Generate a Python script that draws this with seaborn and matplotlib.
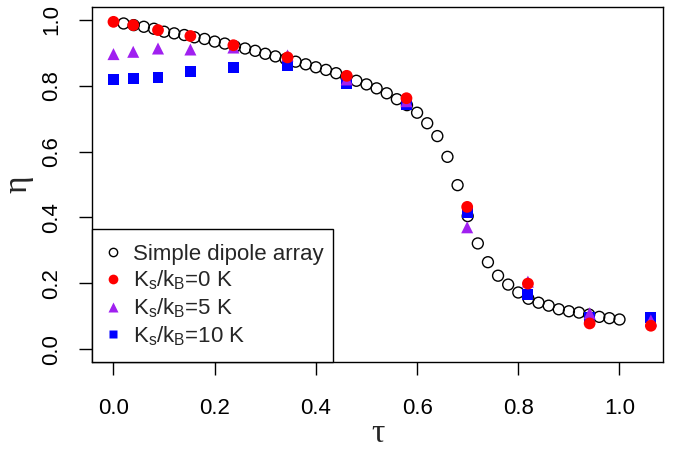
import matplotlib
matplotlib.use("Agg")
import matplotlib.pyplot as plt
from matplotlib.lines import Line2D
from matplotlib.patches import Rectangle
import seaborn as sns
import pandas as pd

# ---- data ----
tau_simple = [0.02, 0.04, 0.06, 0.08, 0.10, 0.12, 0.14, 0.16, 0.18, 0.20,
              0.22, 0.24, 0.26, 0.28, 0.30, 0.32, 0.34, 0.36, 0.38, 0.40,
              0.42, 0.44, 0.46, 0.48, 0.50, 0.52, 0.54, 0.56, 0.58, 0.60,
              0.62, 0.64, 0.66, 0.68, 0.70, 0.72, 0.74, 0.76, 0.78, 0.80,
              0.82, 0.84, 0.86, 0.88, 0.90, 0.92, 0.94, 0.96, 0.98, 1.00]
eta_simple = [0.989, 0.984, 0.979, 0.973, 0.964, 0.959, 0.954, 0.947, 0.942, 0.934,
              0.928, 0.919, 0.913, 0.906, 0.897, 0.889, 0.881, 0.873, 0.865, 0.856,
              0.848, 0.838, 0.827, 0.815, 0.804, 0.792, 0.777, 0.759, 0.741, 0.718,
              0.686, 0.647, 0.584, 0.498, 0.404, 0.321, 0.264, 0.223, 0.196, 0.172,
              0.153, 0.141, 0.132, 0.121, 0.115, 0.111, 0.105, 0.098, 0.094, 0.090]

tau_k = [0.0, 0.039, 0.088, 0.152, 0.237, 0.344, 0.461, 0.579, 0.699, 0.819, 0.941, 1.062]
eta_k0 = [0.994, 0.984, 0.969, 0.951, 0.923, 0.886, 0.830, 0.762, 0.432, 0.199, 0.078, 0.071]
eta_k5 = [0.896, 0.903, 0.913, 0.910, 0.916, 0.892, 0.819, 0.753, 0.370, 0.205, 0.109, 0.087]
eta_k10 = [0.819, 0.822, 0.825, 0.842, 0.856, 0.860, 0.807, 0.744, 0.414, 0.167, 0.097, 0.097]

labels = ["Simple dipole array",
          r"K$_\mathrm{s}$/k$_\mathrm{B}$=0 K",
          r"K$_\mathrm{s}$/k$_\mathrm{B}$=5 K",
          r"K$_\mathrm{s}$/k$_\mathrm{B}$=10 K"]
x_ticks = [0.0, 0.2, 0.4, 0.6, 0.8, 1.0]
y_ticks = [0.0, 0.2, 0.4, 0.6, 0.8, 1.0]

# ---- style ----
sns.set_style("ticks")
plt.rcParams['font.family'] = ['Liberation Sans', 'DejaVu Sans']
plt.rcParams['mathtext.fontset'] = 'custom'
plt.rcParams['mathtext.rm'] = 'Liberation Sans'
plt.rcParams['mathtext.it'] = 'Liberation Sans:italic'

RED = "#FF0000"
PURPLE = "#A020F0"
BLUE = "#0000FF"

fig = plt.figure(figsize=(6.78, 4.49), dpi=100)
ax = fig.add_axes([0.1361, 0.1931, 0.9779 - 0.1361, 0.9851 - 0.1931])

df_s = pd.DataFrame({"tau": tau_simple, "eta": eta_simple})
df_k = pd.DataFrame({"tau": tau_k, "k0": eta_k0, "k5": eta_k5, "k10": eta_k10})

sns.scatterplot(data=df_s, x="tau", y="eta", ax=ax, marker="o", s=62,
                facecolors="none", edgecolor="black", linewidth=1.0, legend=False, zorder=3)
sns.scatterplot(data=df_k, x="tau", y="k10", ax=ax, marker="s", s=62,
                color=BLUE, edgecolor="none", legend=False, zorder=4)
sns.scatterplot(data=df_k, x="tau", y="k5", ax=ax, marker="^", s=75,
                color=PURPLE, edgecolor="none", legend=False, zorder=5)
sns.scatterplot(data=df_k, x="tau", y="k0", ax=ax, marker="o", s=72,
                color=RED, edgecolor="none", legend=False, zorder=6)

ax.set_xlim(-0.0419, 1.086)
ax.set_ylim(-0.04, 1.04)
ax.set_xticks(x_ticks)
ax.set_yticks(y_ticks)
ax.set_xticklabels([f"{v:.1f}" for v in x_ticks])
ax.set_yticklabels([f"{v:.1f}" for v in y_ticks])
plt.setp(ax.get_yticklabels(), rotation=90, va="center")

for sp in ax.spines.values():
    sp.set_color("black")
    sp.set_linewidth(1.0)
    sp.set_visible(True)

ax.tick_params(axis="both", direction="out", length=9.5, width=1.0,
               colors="black", labelsize=16)
ax.tick_params(axis="x", pad=16)
ax.tick_params(axis="y", pad=12)

ax.set_xlabel("τ", fontsize=24, family=["Liberation Serif", "DejaVu Serif"], labelpad=0)
ax.set_ylabel("η", fontsize=24, family=["Liberation Serif", "DejaVu Serif"], labelpad=6)

# legend frame (R-style box anchored to the bottom-left corner of the plot)
ax.add_patch(Rectangle((0, 0), 0.421, 0.374, transform=ax.transAxes, fill=True,
                       facecolor="white", edgecolor="black", linewidth=1.0,
                       zorder=9, clip_on=False))

handles = [
    Line2D([], [], linestyle="none", marker="o", markersize=6, markerfacecolor="none",
           markeredgecolor="black", markeredgewidth=1.0),
    Line2D([], [], linestyle="none", marker="o", markersize=7, markerfacecolor=RED,
           markeredgecolor="none"),
    Line2D([], [], linestyle="none", marker="^", markersize=7.5, markerfacecolor=PURPLE,
           markeredgecolor="none"),
    Line2D([], [], linestyle="none", marker="s", markersize=6, markerfacecolor=BLUE,
           markeredgecolor="none"),
]
leg = ax.legend(handles, labels, loc="center left", bbox_to_anchor=(0.017, 0.187),
                borderaxespad=0, fontsize=16, frameon=False, handlelength=1.0,
                handletextpad=0.4, labelspacing=0.18, borderpad=0)
leg.set_zorder(10)

fig.savefig("out.png", dpi=100)
